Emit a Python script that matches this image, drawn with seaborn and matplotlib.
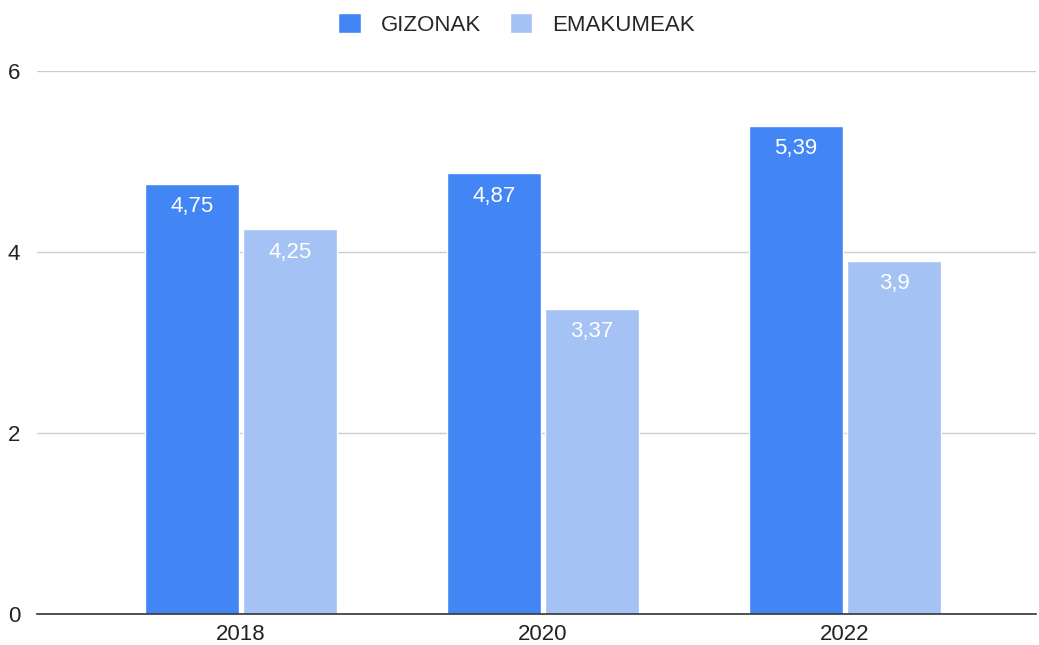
import pandas as pd
import matplotlib
matplotlib.use('Agg')
import matplotlib.pyplot as plt
import seaborn as sns
from matplotlib.patches import Patch

years = ['2018', '2020', '2022']
gizonak = [4.75, 4.87, 5.39]
emakumeak = [4.25, 3.37, 3.9]
series = ['GIZONAK', 'EMAKUMEAK']
colors = ['#4285F4', '#A4C2F4']

df = pd.DataFrame({
    'urtea': years * 2,
    'balioa': gizonak + emakumeak,
    'taldea': [series[0]] * len(years) + [series[1]] * len(years),
})

sns.set_theme(style='white')
plt.rcParams['font.family'] = ['Liberation Sans', 'DejaVu Sans']

fig = plt.figure(figsize=(10.39, 6.45), dpi=100)
ax = fig.add_axes([0.0356, 0.048, 0.9615, 0.842])

sns.barplot(data=df, x='urtea', y='balioa', hue='taldea', palette=colors,
            width=0.65, gap=0.04, ax=ax, legend=False, saturation=1)

# value labels inside the top of each bar
for cont in ax.containers:
    labels = [f'{v:g}'.replace('.', ',') for v in cont.datavalues]
    ax.bar_label(cont, labels=labels, label_type='edge', padding=-24,
                 color='white', fontsize=16)

ax.set_ylim(0, 6)
ax.set_xlim(-0.675, 2.632)
ax.set_yticks([0, 2, 4, 6])
ax.yaxis.grid(True, color='#cccccc', linewidth=1)
ax.set_axisbelow(True)
ax.set_xlabel('')
ax.set_ylabel('')
for s in ['top', 'right', 'left']:
    ax.spines[s].set_visible(False)
ax.spines['bottom'].set_color('#333333')
ax.spines['bottom'].set_linewidth(1.2)
ax.tick_params(axis='both', length=0, labelsize=16, colors='#222222')
ax.tick_params(axis='y', pad=12)
ax.tick_params(axis='x', pad=7)

handles = [Patch(facecolor=c, label=s) for c, s in zip(colors, series)]
fig.legend(handles=handles, loc='center', bbox_to_anchor=(0.497, 0.962), ncol=2,
           frameon=False, fontsize=16, handlelength=1.0, handleheight=1.0,
           columnspacing=1.3, handletextpad=0.9)

fig.savefig('out.png', dpi=100)
